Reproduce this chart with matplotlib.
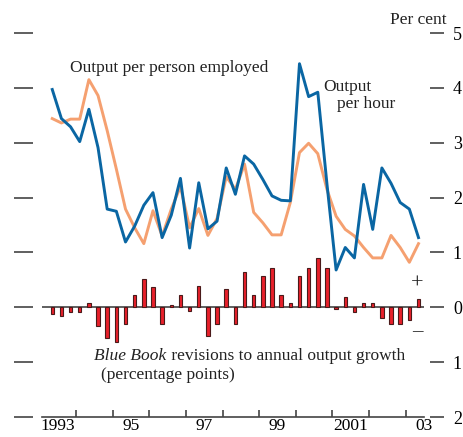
import matplotlib
matplotlib.use("Agg")
import matplotlib.pyplot as plt
import numpy as np

plt.rcParams['font.family'] = ['Liberation Serif', 'DejaVu Serif']

# quarterly data, 1993 Q2 to 2003 Q2
per_hour = [3.97, 3.44, 3.29, 3.02, 3.61, 2.91, 1.79, 1.75, 1.19, 1.48,
            1.86, 2.09, 1.27, 1.68, 2.35, 1.08, 2.27, 1.43, 1.57, 2.54,
            2.06, 2.76, 2.61, 2.33, 2.03, 1.95, 1.94, 4.44, 3.84, 3.92,
            2.25, 0.68, 1.09, 0.90, 2.24, 1.42, 2.54, 2.26, 1.91, 1.79, 1.27]
per_person = [3.44, 3.36, 3.43, 3.43, 4.15, 3.86, 3.22, 2.52, 1.79, 1.45,
              1.16, 1.76, 1.30, 1.79, 2.20, 1.45, 1.80, 1.31, 1.62, 2.38,
              2.15, 2.61, 1.73, 1.54, 1.32, 1.32, 1.91, 2.82, 2.99, 2.80,
              2.15, 1.66, 1.42, 1.30, 1.09, 0.90, 0.90, 1.31, 1.09, 0.82, 1.16]
revisions = [-0.12, -0.15, -0.08, -0.085, 0.08, -0.35, -0.56, -0.64, -0.30, 0.23,
             0.52, 0.37, -0.30, 0.04, 0.23, -0.07, 0.38, -0.53, -0.30, 0.34,
             -0.31, 0.64, 0.23, 0.57, 0.71, 0.23, 0.08, 0.57, 0.71, 0.90,
             0.71, -0.04, 0.18, -0.085, 0.08, 0.08, -0.20, -0.30, -0.30, -0.23, 0.15]
year_labels = ['1993', '95', '97', '99', '2001', '03']
yticks = [-2, -1, 0, 1, 2, 3, 4, 5]
ytick_labels = ['2', '1', '0', '1', '2', '3', '4', '5']

x = np.arange(len(per_hour))
year_edges = [2.6 + 4 * k for k in range(10)]
label_pos = [0.6 + 8 * k for k in range(len(year_labels))]

fig = plt.figure(figsize=(4.64, 4.37), dpi=100)
ax = fig.add_axes([42 / 464, 20 / 437, 382 / 464, 384 / 437])

blue = '#0a66a3'
orange = '#f5a070'
grey = '#444444'
txt = '#222222'

ax.axhline(0, color=grey, lw=1.2, zorder=1)
ax.bar(x, revisions, width=0.38, color='#e8202a', edgecolor='#4a1a1a', linewidth=0.8, zorder=2)
ax.plot(x, per_person, color=orange, lw=2.1, zorder=3)
ax.plot(x, per_hour, color=blue, lw=2.1, zorder=4)

ax.set_xlim(-1.12, 40.25)
ax.set_ylim(-2, 5)

ax.spines['top'].set_visible(False)
ax.spines['bottom'].set_color(grey)
ax.spines['bottom'].set_linewidth(1.2)
ax.spines['left'].set_position(('outward', 6.5))
ax.spines['left'].set_visible(False)
ax.spines['right'].set_position(('outward', 4.3))
ax.spines['right'].set_visible(False)

ax.set_yticks(yticks)
ax.set_yticklabels(ytick_labels)
ax.tick_params(axis='y', which='both', left=True, right=True, labelleft=False,
               labelright=True, direction='out', color=grey, width=1.2,
               labelsize=13, pad=3)
ax.yaxis.set_tick_params(which='major', length=13.5)
for t in ax.yaxis.get_major_ticks():
    t.tick2line.set_markersize(10)

ax.set_xticks(year_edges)
ax.set_xticklabels([])
ax.set_xticks(label_pos, minor=True)
ax.set_xticklabels(year_labels, minor=True)
ax.tick_params(axis='x', which='major', direction='in', length=5, width=1.2, color=grey)
ax.tick_params(axis='x', which='minor', length=0, labelsize=12.5, pad=1)

ax.text(1.9, 4.37, 'Output per person employed', fontsize=12.5, va='center', color=txt)
ax.text(29.6, 4.02, 'Output', fontsize=12.5, va='center', color=txt)
ax.text(31.1, 3.71, 'per hour', fontsize=12.5, va='center', color=txt)
t1 = ax.text(4.6, -0.88, 'Blue Book', fontsize=12.5, style='italic', va='center', color=txt)
ax.annotate(' revisions to annual output growth', xy=(1, 0.5), xycoords=t1,
            va='center', fontsize=12.5, color=txt)
ax.text(5.3, -1.23, '(percentage points)', fontsize=12.5, va='center', color=txt)
ax.text(39.9, 0.42, '+', fontsize=16, ha='center', va='center', color=txt)
ax.text(39.9, -0.45, '\u2013', fontsize=15, ha='center', va='center', color=txt)
fig.text(418 / 464, 1 - 20 / 437, 'Per cent', fontsize=12.5, ha='center', va='center', color=txt)

fig.savefig('out.png', dpi=100)
